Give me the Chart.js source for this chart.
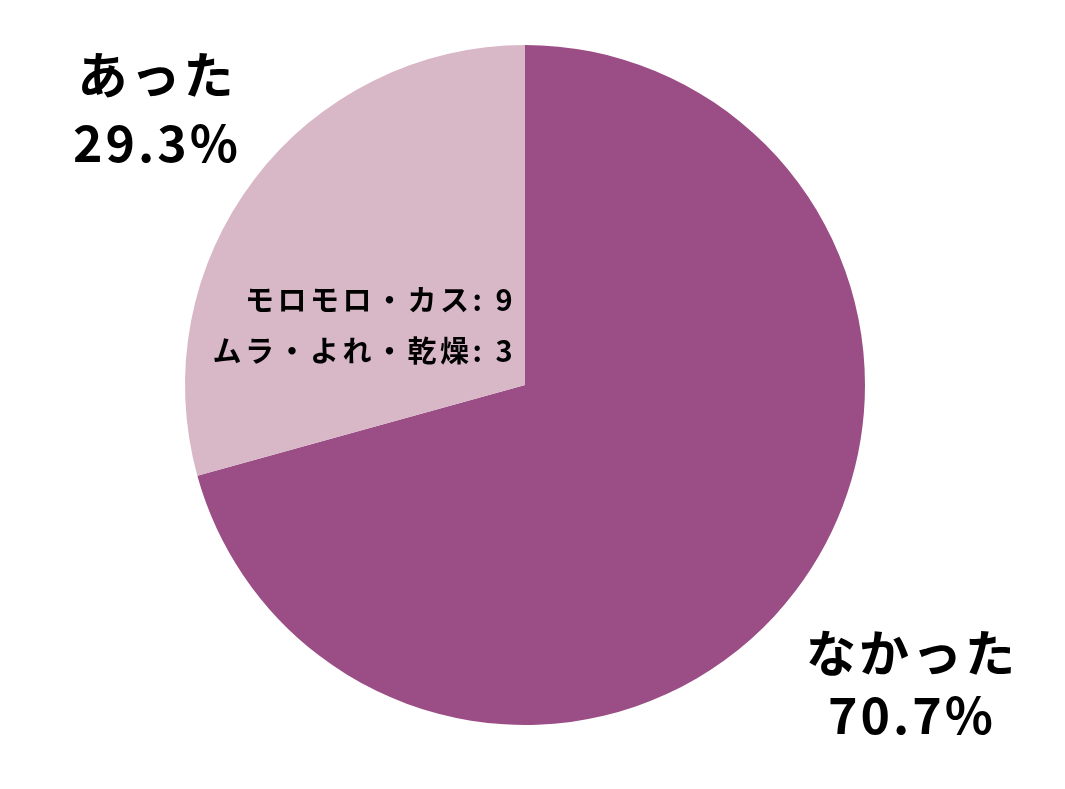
<!DOCTYPE html>
<html>
<head>
    <meta charset="utf-8">
    <title>円グラフ</title>
    <script src="https://cdn.jsdelivr.net/npm/chart.js"></script>
    <style>
        html, body { margin: 0; padding: 0; background: #fff; }
        #wrap { width: 1065px; height: 789px; }
    </style>
</head>
<body>
    <div id="wrap">
        <canvas id="pieChart" width="1065" height="789"></canvas>
    </div>

    <script>
        // データ
        var labels = ['なかった', 'あった'];
        var values = [70.7, 29.3];
        var colors = ['#9b4e85', '#d8b8c7'];
        var details = ['モロモロ・カス: 9', 'ムラ・よれ・乾燥: 3'];

        var FONT = '"Noto Sans CJK JP", "Noto Sans", sans-serif';

        // ラベル描画用プラグイン
        var labelPlugin = {
            id: 'pieLabels',
            afterDatasetsDraw: function (chart) {
                var ctx = chart.ctx;
                var arc = chart.getDatasetMeta(0).data[0];
                var cx = arc.x, cy = arc.y;
                ctx.save();
                ctx.fillStyle = '#000';
                ctx.textAlign = 'center';
                ctx.textBaseline = 'middle';
                ctx.font = 'bold 50px ' + FONT;
                ctx.letterSpacing = '3px';

                // あった
                ctx.fillText(labels[1], cx - 368, cy - 310);
                ctx.fillText(values[1].toFixed(1) + '%', cx - 368, cy - 242);
                // なかった
                ctx.fillText(labels[0], cx + 387, cy + 268);
                ctx.fillText(values[0].toFixed(1) + '%', cx + 387, cy + 330);

                // 内訳
                ctx.textAlign = 'right';
                ctx.font = 'bold 29px ' + FONT;
                ctx.letterSpacing = '3.5px';
                ctx.fillText(details[0], cx - 9, cy - 85);
                ctx.fillText(details[1], cx - 9, cy - 34);
                ctx.restore();
            }
        };

        var ctxPie = document.getElementById('pieChart').getContext('2d');
        var pieChart = new Chart(ctxPie, {
            type: 'pie',
            data: {
                labels: labels,
                datasets: [{
                    data: values,
                    backgroundColor: colors,
                    borderWidth: 0
                }]
            },
            options: {
                responsive: false,
                animation: false,
                layout: {
                    padding: { top: 45, bottom: 64, left: 185, right: 200 }
                },
                plugins: {
                    legend: { display: false },
                    tooltip: { enabled: false }
                }
            },
            plugins: [labelPlugin]
        });
    </script>
</body>
</html>
